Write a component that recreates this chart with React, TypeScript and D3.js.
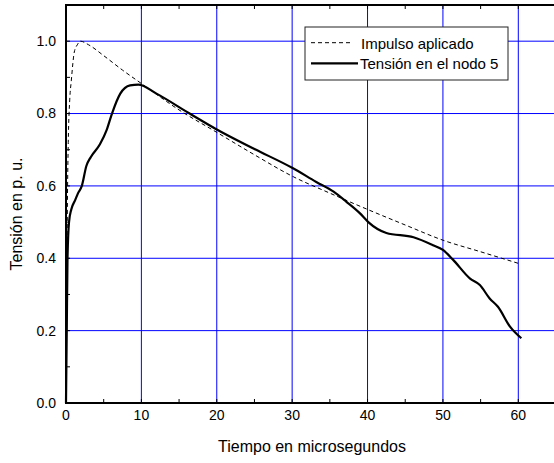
import * as d3 from "d3";

// impulso aplicado (tiempo en µs, tensión en p.u.)
const impulsoT = [0, 0.1, 0.2, 0.3, 0.5, 0.7, 1.1, 1.5, 1.9, 3, 5, 7.5, 10, 15, 20, 25, 30, 35, 40, 45, 50, 55, 60];
const impulsoV = [0, 0.3, 0.58, 0.72, 0.84, 0.89, 0.97, 0.99, 1.0, 0.99, 0.96, 0.92, 0.883, 0.81, 0.748, 0.686, 0.627, 0.58, 0.535, 0.492, 0.45, 0.418, 0.386];

// tensión en el nodo 5
const nodoT = [0, 0.1, 0.2, 0.4, 0.7, 1.2, 1.6, 2.1, 2.7, 3.3, 4.5, 5.4, 6.1, 7.2, 8.5, 9.6, 12, 16.4, 20, 25, 30, 33.2, 35.5, 37.2, 39, 40.1, 42.5, 46.1, 48.7, 50, 51.3, 53.6, 54.9, 56.2, 57.3, 58.9, 60.4];
const nodoV = [0, 0.2, 0.4, 0.5, 0.535, 0.56, 0.58, 0.6, 0.655, 0.68, 0.715, 0.755, 0.8, 0.855, 0.878, 0.88, 0.855, 0.8, 0.756, 0.702, 0.65, 0.611, 0.584, 0.556, 0.524, 0.5, 0.47, 0.458, 0.436, 0.423, 0.397, 0.344, 0.326, 0.289, 0.266, 0.211, 0.179];

const xTicks = [0, 10, 20, 30, 40, 50, 60];
const yTicks = [0, 0.2, 0.4, 0.6, 0.8, 1.0];
const xMinor = d3.range(0, 66, 5);
const yMinor = d3.range(0, 1.11, 0.1);

const font = "'Liberation Sans', Arial, sans-serif";

function App() {
  const width = 554;
  const height = 463;
  const x = d3.scaleLinear().domain([0, 65]).range([66, 556]);
  const y = d3.scaleLinear().domain([0, 1.1]).range([403, 5]);

  const line = d3
    .line<[number, number]>()
    .x((d) => x(d[0]))
    .y((d) => y(d[1]))
    .curve(d3.curveMonotoneX);

  const impulso = impulsoT.map((t, i) => [t, impulsoV[i]] as [number, number]);
  const nodo = nodoT.map((t, i) => [t, nodoV[i]] as [number, number]);

  const [x0, x1] = x.range();
  const [y0, y1] = y.range();

  return (
    <svg
      width={width}
      height={height}
      style={{ position: "absolute", left: 0, top: 0, background: "#fff" }}
    >
      <rect x={0} y={0} width={width} height={height} fill="#fff" />
      {/* rejilla */}
      {xTicks.slice(1).map((t) => (
        <line key={"gx" + t} x1={x(t)} x2={x(t)} y1={y1} y2={y0} stroke="#0000ff" strokeWidth={1} />
      ))}
      {yTicks.slice(1).map((t) => (
        <line key={"gy" + t} x1={x0} x2={x1} y1={y(t)} y2={y(t)} stroke="#0000ff" strokeWidth={1} />
      ))}

      {/* marcas */}
      {xMinor.map((t) => (
        <g key={"mx" + t}>
          <line x1={x(t)} x2={x(t)} y1={y0} y2={y0 - 4} stroke="#000" />
          <line x1={x(t)} x2={x(t)} y1={y1} y2={y1 + 4} stroke="#000" />
        </g>
      ))}
      {yMinor.map((t) => (
        <line key={"my" + t} x1={x0} x2={x0 + 4} y1={y(t)} y2={y(t)} stroke="#000" />
      ))}

      {/* curvas */}
      <path d={line(impulso) ?? ""} fill="none" stroke="#000" strokeWidth={1} strokeDasharray="4,3" />
      <path d={line(nodo) ?? ""} fill="none" stroke="#000" strokeWidth={2.2} strokeLinejoin="round" />

      {/* marco */}
      <rect x={x0} y={y1} width={x1 - x0} height={y0 - y1} fill="none" stroke="#000" strokeWidth={2} />

      {/* etiquetas */}
      {xTicks.map((t) => (
        <text key={"tx" + t} x={x(t)} y={420} textAnchor="middle" fontFamily={font} fontSize={14} fill="#000">
          {t}
        </text>
      ))}
      {yTicks.map((t) => (
        <text key={"ty" + t} x={56} y={y(t)} dy="0.35em" textAnchor="end" fontFamily={font} fontSize={14} fill="#000">
          {t.toFixed(1)}
        </text>
      ))}
      <text x={312} y={452} textAnchor="middle" fontFamily={font} fontSize={16} fill="#000">
        Tiempo en microsegundos
      </text>
      <text
        transform="translate(22,214) rotate(-90)"
        textAnchor="middle"
        fontFamily={font}
        fontSize={16}
        fill="#000"
      >
        Tensión en p. u.
      </text>

      {/* leyenda */}
      <rect x={305} y={27} width={203} height={53} fill="#fff" stroke="#222" strokeWidth={1} />
      <line x1={311} x2={353} y1={42.7} y2={42.7} stroke="#000" strokeWidth={1} strokeDasharray="4,3" />
      <text x={361} y={48.5} fontFamily={font} fontSize={15} fill="#000">
        Impulso aplicado
      </text>
      <line x1={311} x2={358} y1={63.3} y2={63.3} stroke="#000" strokeWidth={2.2} />
      <text x={360} y={69} fontFamily={font} fontSize={15} fill="#000">
        Tensión en el nodo 5
      </text>
    </svg>
  );
}

export default App;
